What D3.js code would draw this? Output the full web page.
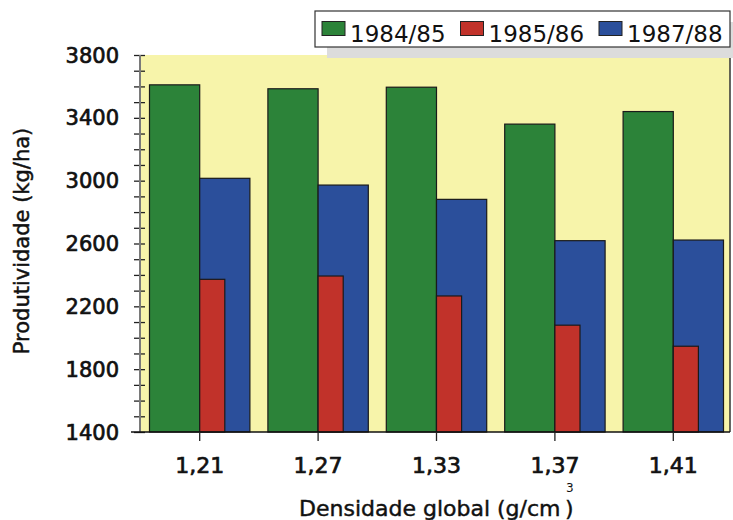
<!DOCTYPE html>
<html>
<head>
<meta charset="utf-8">
<script src="https://cdn.jsdelivr.net/npm/d3@7"></script>
<style>
  body { margin: 0; background: #fff; }
  text { font-family: "DejaVu Sans", Verdana, sans-serif; fill: #111; }
</style>
</head>
<body>
<div id="chart"></div>
<script>
// values
var categories = ["1,21", "1,27", "1,33", "1,37", "1,41"];
var seriesNames = ["1984/85", "1985/86", "1987/88"];
var serie8485 = [3610, 3585, 3595, 3360, 3440];
var serie8586 = [2372, 2393, 2266, 2080, 1946];
var serie8788 = [3015, 2972, 2881, 2618, 2622];
var yTickLabels = [1400, 1800, 2200, 2600, 3000, 3400, 3800];

var colors = ["#2c8339", "#c1322a", "#2b4f9b"];

var width = 733, height = 520;
var plot = {left: 140, right: 730, top: 55, bottom: 432};

var svg = d3.select("#chart").append("svg")
    .attr("width", width)
    .attr("height", height);

var y = d3.scaleLinear()
    .domain([1400, 3800])
    .range([plot.bottom, plot.top]);

var x = d3.scaleBand()
    .domain(categories)
    .range([149.5, 723.5])
    .paddingInner(0.152)
    .paddingOuter(0);

var bw = x.bandwidth();

// plot background
svg.append("rect")
    .attr("x", plot.left)
    .attr("y", plot.top)
    .attr("width", plot.right - plot.left)
    .attr("height", plot.bottom - plot.top)
    .style("fill", "#f7f4aa");

// right border
svg.append("line")
    .attr("x1", plot.right).attr("x2", plot.right)
    .attr("y1", plot.top).attr("y2", plot.bottom)
    .style("stroke", "#333").style("stroke-width", 1.5);

var rows = categories.map(function (c, i) {
    return {cat: c, a: serie8485[i], b: serie8586[i], c: serie8788[i]};
});

function drawBars(key, offset, w, color) {
    svg.append("g").selectAll("rect")
        .data(rows)
        .enter().append("rect")
        .attr("x", function (d) { return x(d.cat) + offset; })
        .attr("y", function (d) { return y(d[key]); })
        .attr("width", w)
        .attr("height", function (d) { return y(1400) - y(d[key]); })
        .style("fill", color)
        .style("stroke", "#1a1a1a")
        .style("stroke-width", 1.2);
}

drawBars("a", 0, bw / 2, colors[0]);
drawBars("c", bw / 2, bw / 2, colors[2]);
drawBars("b", bw / 2, bw / 4, colors[1]);

// y axis
var yAxis = d3.axisLeft(y)
    .tickValues(d3.range(1400, 3801, 100))
    .tickSize(5)
    .tickFormat("");
var gy = svg.append("g")
    .attr("transform", "translate(" + plot.left + ",0)")
    .call(yAxis);
gy.select(".domain").remove();
gy.selectAll(".tick line")
    .attr("x1", -6).attr("x2", 5)
    .style("stroke", "#222").style("stroke-width", 1.3);
svg.append("line")
    .attr("x1", plot.left).attr("x2", plot.left)
    .attr("y1", plot.top).attr("y2", plot.bottom)
    .style("stroke", "#7a7a7a").style("stroke-width", 2);

svg.append("g").selectAll("text")
    .data(yTickLabels)
    .enter().append("text")
    .attr("x", 119)
    .attr("y", function (d) { return y(d); })
    .attr("dy", "0.36em")
    .attr("text-anchor", "end")
    .style("font-size", "21px")
    .style("stroke", "#111").style("stroke-width", 0.7)
    .text(function (d) { return d; });

// x axis
svg.append("line")
    .attr("x1", 131).attr("x2", plot.right)
    .attr("y1", plot.bottom).attr("y2", plot.bottom)
    .style("stroke", "#111").style("stroke-width", 1.5);

svg.append("g").selectAll("line")
    .data(categories)
    .enter().append("line")
    .attr("x1", function (d) { return x(d) + bw / 2; })
    .attr("x2", function (d) { return x(d) + bw / 2; })
    .attr("y1", plot.bottom).attr("y2", plot.bottom + 9)
    .style("stroke", "#222").style("stroke-width", 1.3);

svg.append("g").selectAll("text")
    .data(categories)
    .enter().append("text")
    .attr("x", function (d) { return x(d) + bw / 2; })
    .attr("y", 473)
    .attr("text-anchor", "middle")
    .style("font-size", "22px")
    .style("stroke", "#111").style("stroke-width", 0.7)
    .text(function (d) { return d; });

// axis titles
svg.append("text")
    .attr("transform", "translate(29,241) rotate(-90)")
    .attr("text-anchor", "middle")
    .style("font-size", "21px")
    .style("stroke", "#111").style("stroke-width", 0.45)
    .text("Produtividade (kg/ha)");

var xTitle = svg.append("text")
    .attr("x", 299)
    .attr("y", 516)
    .style("font-size", "22px")
    .style("stroke", "#111").style("stroke-width", 0.45);
xTitle.append("tspan").text("Densidade global (g/cm");
xTitle.append("tspan")
    .attr("x", 565).attr("y", 516)
    .text(")");
svg.append("text")
    .attr("x", 566).attr("y", 492)
    .style("font-size", "12px")
    .text("3");

// legend
var legend = svg.append("g").attr("class", "legend");
legend.append("rect")
    .attr("x", 327).attr("y", 22)
    .attr("width", 420).attr("height", 36)
    .style("fill", "#dcdcdc");
legend.append("rect")
    .attr("x", 315).attr("y", 11)
    .attr("width", 415).attr("height", 36)
    .style("fill", "#fff")
    .style("stroke", "#333").style("stroke-width", 1.2);

var item = legend.selectAll(".legendItem")
    .data(seriesNames)
    .enter().append("g")
    .attr("class", "legendItem")
    .attr("transform", function (d, i) {
        return "translate(" + (322 + i * 138.5) + ",0)";
    });
item.append("rect")
    .attr("y", 21.5)
    .attr("width", 23).attr("height", 14)
    .style("fill", function (d, i) { return colors[i]; })
    .style("stroke", "#222").style("stroke-width", 1);
item.append("text")
    .attr("x", 28)
    .attr("y", 41.5)
    .style("font-size", "23px")
    .text(function (d) { return d; });
</script>
</body>
</html>
